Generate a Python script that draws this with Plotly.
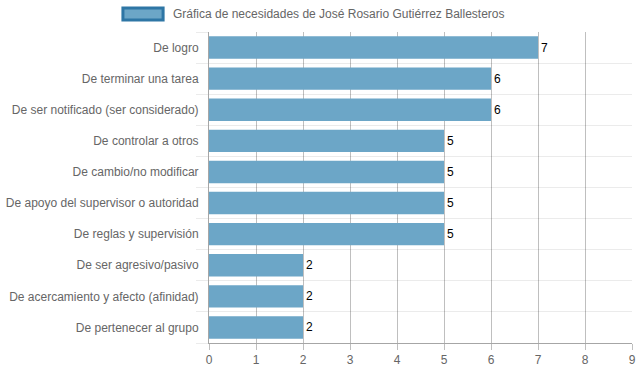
import plotly.graph_objects as go

categories = [
    "De logro",
    "De terminar una tarea",
    "De ser notificado (ser considerado)",
    "De controlar a otros",
    "De cambio/no modificar",
    "De apoyo del supervisor o autoridad",
    "De reglas y supervisión",
    "De ser agresivo/pasivo",
    "De acercamiento y afecto (afinidad)",
    "De pertenecer al grupo",
]
values = [7, 6, 6, 5, 5, 5, 5, 2, 2, 2]
series_name = "Gráfica de necesidades de José Rosario Gutiérrez Ballesteros"
x_ticks = list(range(0, 10))

bar_color = "#6ca6c7"
font_family = "Liberation Sans, Arial, sans-serif"

fig = go.Figure()
fig.add_trace(go.Bar(
    x=values,
    y=categories,
    orientation="h",
    name=series_name,
    marker=dict(color=bar_color, line=dict(width=0)),
    text=[str(v) for v in values],
    textposition="outside",
    textfont=dict(color="#000000", size=12, family="Liberation Sans Narrow, Liberation Sans, Arial"),
    cliponaxis=False,
    showlegend=False,
))

fig.update_layout(
    width=639,
    height=372,
    margin=dict(l=209, r=7, t=32, b=29, autoexpand=False),
    paper_bgcolor="white",
    plot_bgcolor="white",
    bargap=0.28,
    font=dict(family=font_family, size=12, color="#666666"),
    xaxis=dict(
        range=[0, 9],
        tickvals=x_ticks,
        ticktext=[str(t) for t in x_ticks],
        showgrid=True,
        gridcolor="rgba(0,0,0,0.25)",
        gridwidth=1,
        zeroline=False,
        showline=True,
        linecolor="rgba(0,0,0,0.35)",
        ticks="outside",
        ticklen=6,
        tickcolor="rgba(0,0,0,0.25)",
        layer="above traces",
        tickfont=dict(size=12, color="#666666"),
        ticklabeloverflow="allow",
        automargin=False,
        fixedrange=True,
    ),
    yaxis=dict(
        categoryorder="array",
        categoryarray=categories[::-1],
        autorange=True,
        tickson="boundaries",
        showgrid=True,
        gridcolor="rgba(0,0,0,0.08)",
        ticks="outside",
        ticklen=12,
        tickcolor="rgba(0,0,0,0.08)",
        showline=True,
        linecolor="rgba(0,0,0,0.35)",
        tickfont=dict(size=12, color="#666666"),
        ticklabelstandoff=7,
        automargin=False,
        fixedrange=True,
    ),
    shapes=[
        dict(type="rect", xref="paper", yref="paper",
             x0=-0.2035, x1=-0.1085, y0=1.0 + 12 / 311, y1=1.0 + 24 / 311,
             fillcolor=bar_color, line=dict(color="#2e76a5", width=3)),
    ],
    annotations=[
        dict(text=series_name, xref="paper", yref="paper",
             x=-0.0906, y=1.0 + 18 / 311, xanchor="left", yanchor="middle",
             showarrow=False, font=dict(size=12, color="#666666", family=font_family)),
    ],
)

fig.write_html(
    "out.html",
    config={"displayModeBar": False},
    post_script="document.body.style.margin='0';document.body.style.overflow='hidden';",
)
